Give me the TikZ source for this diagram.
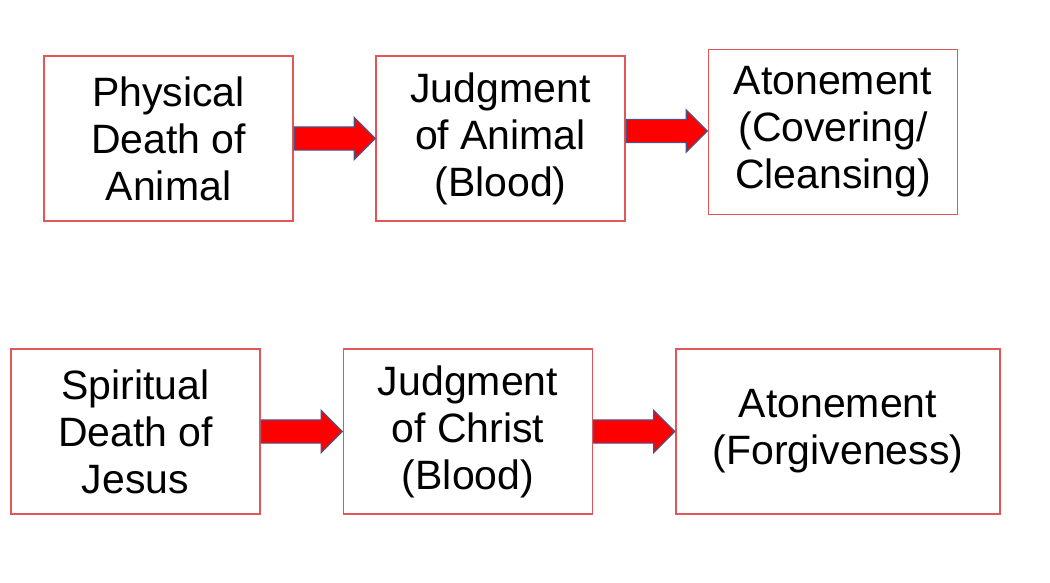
\documentclass[tikz,border=0pt]{standalone}
\usepackage{fontspec}
\setmainfont{Liberation Sans}
\usepackage{tikz}
\usetikzlibrary{shapes.arrows}

\definecolor{boxred}{RGB}{226,86,90}
\definecolor{arrowedge}{RGB}{80,80,130}

\tikzset{
	box/.style={draw=boxred, line width=1.4pt, rectangle, minimum width=249pt, minimum height=165pt, inner sep=0pt, align=center, font=\fontsize{41}{47}\selectfont},
	fatarrow/.style={single arrow, draw=arrowedge, line width=1.2pt, fill=red, minimum height=81pt, inner xsep=0pt, inner ysep=11pt, single arrow head extend=9.5pt, single arrow tip angle=90, anchor=tail}
}

\begin{document}
\begin{tikzpicture}[x=1pt, y=1pt]
	\useasboundingbox (0,0) rectangle (1050,-582);
	
	\node[box](DEATH1) at (168.5,-138.5){Physical\\Death of\\Animal};
	\node[box, right of=DEATH1, node distance=332pt](JUDG1){Judgment\\of Animal\\(Blood)};
	\node[box, right of=JUDG1, node distance=332.5pt, yshift=6.5pt](ATON1){Atonement\\(Covering/\\Cleansing)};
	
	\node[box](DEATH2) at (135.5,-431.5){Spiritual\\Death of\\Jesus};
	\node[box, right of=DEATH2, node distance=332.5pt](JUDG2){Judgment\\of Christ\\(Blood)};
	\node[box, right of=JUDG2, node distance=370pt, minimum width=324pt](ATON2){Atonement\\(Forgiveness)};
	
	\path (DEATH1.east) -- (JUDG1.west) node[at start, fatarrow](ARR1){};
	\path (JUDG1.east) -- (ATON1.west) node[at start, fatarrow, yshift=7.5pt](ARR2){};
	
	\path (DEATH2.east) -- (JUDG2.west) node[at start, fatarrow](ARR3){};
	\path (JUDG2.east) -- (ATON2.west) node[at start, fatarrow](ARR4){};
\end{tikzpicture}
\end{document}
